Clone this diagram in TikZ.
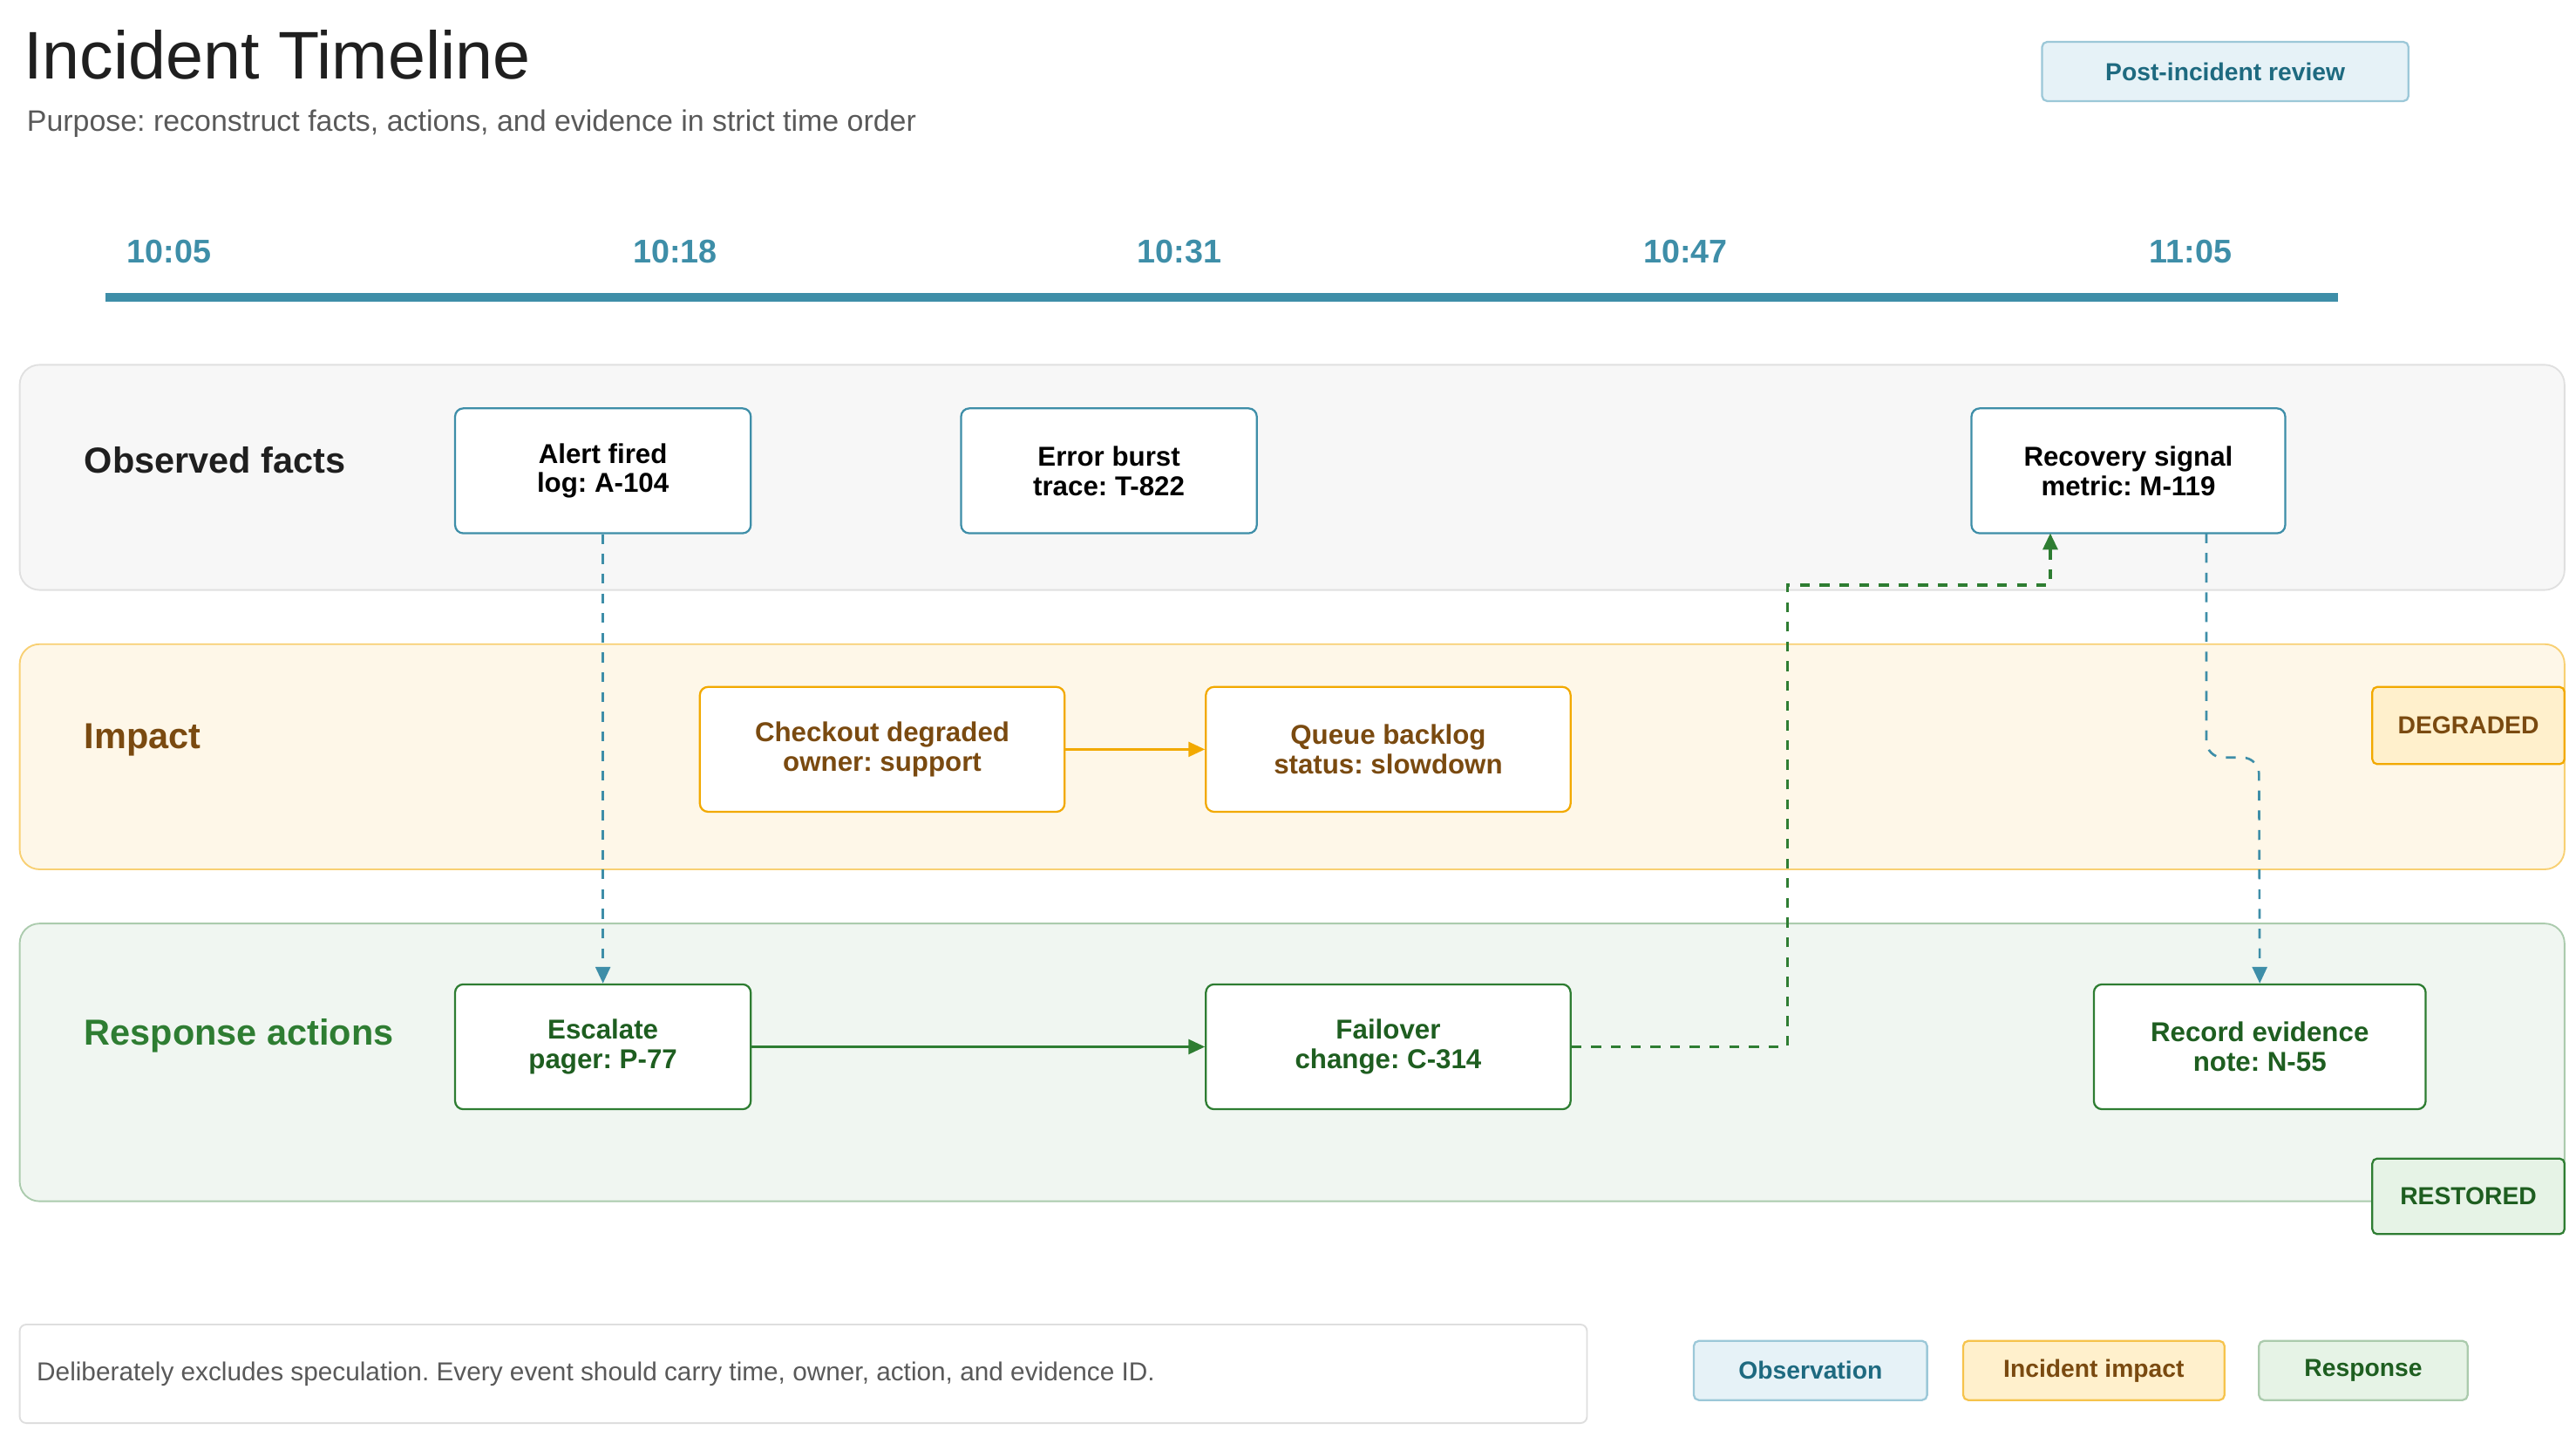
\documentclass[tikz,border=0pt]{standalone}
\usepackage{fontspec}
\setmainfont{Liberation Sans}
\usetikzlibrary{arrows.meta}
\definecolor{obs}{HTML}{3E8EA8}
\definecolor{obsfill}{HTML}{E6F2F7}
\definecolor{obsbd}{HTML}{9CC8D8}
\definecolor{obstxt}{HTML}{1E6A80}
\definecolor{imp}{HTML}{F2A900}
\definecolor{imptxt}{HTML}{7A4A10}
\definecolor{impfill}{HTML}{FFF0CC}
\definecolor{res}{HTML}{2E7D32}
\definecolor{restxt}{HTML}{1E5E20}
\definecolor{resfill}{HTML}{E6F3E6}
\frenchspacing
\begin{document}
\begin{tikzpicture}[x=0.5pt,y=-0.5pt,
  lane/.style={draw=#1,rounded corners=6pt,line width=0.5pt},
  ev/.style={draw=#1,fill=white,rounded corners=2.5pt,line width=0.6pt,align=center,font=\fontsize{8.3}{9}\selectfont\bfseries,inner sep=0pt},
  tag/.style={rounded corners=1.5pt,line width=0.6pt,align=center,inner sep=0pt},
  tm/.style={anchor=west,inner sep=0pt,text=obs,font=\fontsize{10}{12}\selectfont\bfseries},
  ll/.style={anchor=west,inner sep=0pt,font=\fontsize{11}{13}\selectfont\bfseries},
  arr/.style={-{Triangle[length=5pt,width=4.5pt]},line width=0.7pt}]
\useasboundingbox (0,0) rectangle (1568,874);
\node[anchor=base west,inner sep=0pt,font=\fontsize{20.5}{24}\selectfont,text=black!88] (title) at (14,48) {Incident Timeline};
\node[anchor=west,inner sep=0pt,font=\fontsize{9}{10}\selectfont,text=black!65] (sub) at (16,75) {Purpose: reconstruct facts, actions, and evidence in strict time order};
\node[tag,draw=obsbd,fill=obsfill,minimum width=111.5pt,minimum height=18pt,text=obstxt,font=\fontsize{7.5}{9}\selectfont\bfseries] (rev) at (1354.5,43.5) {Post-incident review};
\node[tm] (t1) at (77,153) {10:05};
\node[tm] (t2) at (385,153) {10:18};
\node[tm] (t3) at (692,153) {10:31};
\node[tm] (t4) at (1000,153) {10:47};
\node[tm] (t5) at (1308,153) {11:05};
\draw[obs,line width=2.5pt] (64,181) -- (1423,181);
% lanes
\draw[lane={black!12},fill={black!3}] (12,222) rectangle (1561,359);
\draw[lane={imp!55},fill={imp!9}] (12,392) rectangle (1561,529);
\draw[lane={res!40},fill={res!7}] (12,562) rectangle (1561,731);
\node[ll,text=black!88] (l1) at (51,280) {Observed facts};
\node[ll,text=imptxt] (l2) at (51,450) {Impact};
\node[ll,text=res] (l3) at (51,630) {Response actions};
% events
\node[ev=obs,minimum width=90pt,minimum height=38pt] (a) at (367,286.5) {Alert fired\\log: A-104};
\node[ev=obs,minimum width=90pt,minimum height=38pt] (e) at (675,286.5) {Error burst\\trace: T-822};
\node[ev=obs,minimum width=95.5pt,minimum height=38pt] (r) at (1295.5,286.5) {Recovery signal\\metric: M-119};
\node[ev=imp,minimum width=111pt,minimum height=38pt,text=imptxt] (c) at (537,456) {Checkout degraded\\owner: support};
\node[ev=imp,minimum width=111pt,minimum height=38pt,text=imptxt] (q) at (845,456) {Queue backlog\\status: slowdown};
\node[ev=res,minimum width=90pt,minimum height=38pt,text=restxt] (x) at (367,637) {Escalate\\pager: P-77};
\node[ev=res,minimum width=111pt,minimum height=38pt,text=restxt] (f) at (845,637) {Failover\\change: C-314};
\node[ev=res,minimum width=101pt,minimum height=38pt,text=restxt] (d) at (1375.5,637) {Record evidence\\note: N-55};
\node[tag,draw=imp,fill=impfill,minimum width=58.5pt,minimum height=23.5pt,text=imptxt,font=\fontsize{7.5}{9}\selectfont\bfseries] (deg) at (1502.5,441.5) {DEGRADED};
\node[tag,draw=res,fill=resfill,minimum width=58.5pt,minimum height=23pt,text=restxt,font=\fontsize{7.5}{9}\selectfont\bfseries] (rest) at (1502.5,728) {RESTORED};
% connectors
\draw[arr,obs,dashed] (a.south) -- (x.north);
\draw[arr,imp] (c) -- (q);
\draw[arr,res] (x) -- (f);
\draw[arr,res,dashed,line width=0.9pt] (f.east) -- (1088,637) -- (1088,356) -- (1248,356) -- (1248,324.5);
\coordinate (rb) at (1343,324.5);
\draw[arr,obs,dashed,rounded corners=5pt] (rb) -- (1343,461) -- (1375,461) -- (d.north);
% footer
\node[draw=black!13,fill=white,rounded corners=2pt,line width=0.5pt,minimum width=477pt,minimum height=30pt,inner sep=0pt] (note) at (489,836) {};
\node[anchor=west,inner sep=0pt,text=black!65,font=\fontsize{7.9}{9}\selectfont] (nt) at (22,836) {Deliberately excludes speculation. Every event should carry time, owner, action, and evidence ID.};
\node[tag,draw=obsbd,fill=obsfill,minimum width=71pt,minimum height=18pt,text=obstxt,font=\fontsize{7.5}{9}\selectfont\bfseries] (lg1) at (1102,834) {Observation};
\node[tag,draw=imp!70,fill=impfill,minimum width=79.5pt,minimum height=18pt,text=imptxt,font=\fontsize{7.5}{9}\selectfont\bfseries] (lg2) at (1274.5,834) {Incident impact};
\node[tag,draw=res!40,fill=resfill,minimum width=63.5pt,minimum height=18pt,text=restxt,font=\fontsize{7.5}{9}\selectfont\bfseries] (lg3) at (1438.5,834) {Response};
\end{tikzpicture}
\end{document}
